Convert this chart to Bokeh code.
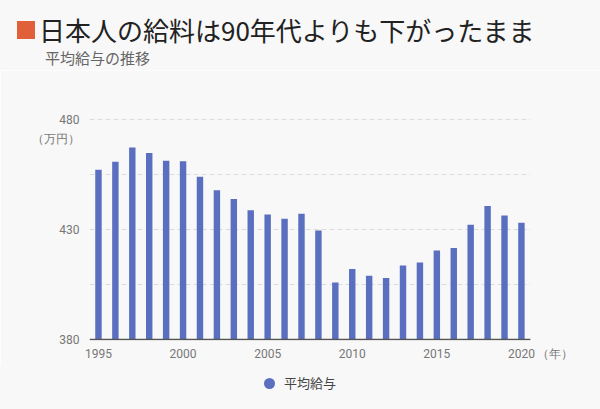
from bokeh.plotting import figure
from bokeh.layouts import column
from bokeh.models import FixedTicker, Range1d, ColumnDataSource, Div
from bokeh.embed import file_html
from bokeh.resources import INLINE

years = list(range(1995, 2021))
salary = [457.2, 460.8, 467.3, 464.8, 461.3, 461.0, 454.0, 447.8, 443.9, 438.8,
          436.8, 434.9, 437.2, 429.6, 405.9, 412.0, 409.0, 408.0, 413.6, 415.0,
          420.4, 421.6, 432.2, 440.7, 436.4, 433.1]
x_ticks = [1995, 2000, 2005, 2010, 2015, 2020]
y_ticks = [380, 430, 480]
grid_ticks = [405, 430, 455, 480]

title_text = "日本人の給料は90年代よりも下がったまま"
subtitle_text = "平均給与の推移"
series_name = "平均給与"
y_unit = "（万円）"
x_unit = "（年）"

BG = "#f8f8f8"
BAR = "#5b6fc0"
ORANGE = "#e0603a"
JP = "Noto Sans CJK JP"
NUM = "Roboto"
W = 600

# ---------- header (HTML text) ----------
HH = 70
head = Div(width=W, height=HH, margin=0, text=f"""
<div style="position:relative;width:{W}px;height:{HH}px;background:{BG};overflow:hidden;">
  <span style="position:absolute;left:17px;top:21px;width:18px;height:18px;background:{ORANGE};"></span>
  <span style="position:absolute;left:39px;top:12px;line-height:36px;font-size:26px;
               font-family:'{JP}';color:#222222;white-space:nowrap;">{title_text}</span>
  <span style="position:absolute;left:45px;top:48px;line-height:20px;font-size:15px;
               font-family:'{JP}';color:#666666;white-space:nowrap;">{subtitle_text}</span>
</div>""")

# ---------- main chart ----------
MH = 295                 # page rows 70..365
TOP, BOT = 85, 340       # frame edges (page px)
PXU = 2.2                # px per unit
y_start = 380 - (BOT - 339) / PXU
y_end = y_start + (BOT - TOP) / PXU
x_start = 1994.47
x_end = 2022.9
x_last = 2020.53

p = figure(width=W, height=MH, output_backend="svg", toolbar_location=None,
           x_range=Range1d(x_start, x_end), y_range=Range1d(y_start, y_end),
           min_border_left=89, min_border_right=30, min_border_top=TOP - HH,
           min_border_bottom=HH + MH - BOT)
p.background_fill_color = BG
p.border_fill_color = BG
p.outline_line_color = None
p.xgrid.visible = False
p.ygrid.visible = False

# dashed horizontal grid lines (limited to the bar area)
p.segment(x0=[x_start] * len(grid_ticks), x1=[x_last] * len(grid_ticks),
          y0=grid_ticks, y1=grid_ticks, line_color="#dcdcdc", line_dash="5 3", line_width=1)

src = ColumnDataSource(dict(x=years, top=salary))
p.vbar(x="x", top="top", bottom=380, width=0.38, source=src,
       fill_color=BAR, line_color=None)

# baseline
p.segment(x0=[x_start], x1=[x_last], y0=[380], y1=[380], line_color="#555555", line_width=1.5)

# x axis (unit shown as an extra tick label)
x_unit_pos = 2022
p.xaxis.ticker = FixedTicker(ticks=x_ticks + [x_unit_pos])
p.xaxis.major_label_overrides = {x_unit_pos: x_unit}
p.xaxis.axis_line_color = None
p.xaxis.major_tick_line_color = None
p.xaxis.minor_tick_line_color = None
p.xaxis.major_tick_out = 0
p.xaxis.major_tick_in = 0
p.xaxis.minor_tick_out = 0
p.xaxis.major_label_text_font = NUM
p.xaxis.major_label_text_font_size = "12px"
p.xaxis.major_label_text_color = "#777777"
p.xaxis.major_label_standoff = 6

# y axis (unit shown as an extra tick label)
y_unit_pos = 471
p.yaxis.ticker = FixedTicker(ticks=y_ticks + [y_unit_pos])
p.yaxis.major_label_overrides = {y_unit_pos: y_unit}
p.yaxis.axis_line_color = None
p.yaxis.major_tick_line_color = None
p.yaxis.minor_tick_line_color = None
p.yaxis.major_tick_out = 0
p.yaxis.major_tick_in = 0
p.yaxis.minor_tick_out = 0
p.yaxis.major_label_text_font = NUM
p.yaxis.major_label_text_font_size = "12px"
p.yaxis.major_label_text_color = "#777777"
p.yaxis.major_label_standoff = 10

# ---------- footer legend (HTML) ----------
FH = 409 - HH - MH
foot = Div(width=W, height=FH, margin=0, text=f"""
<div style="position:relative;width:{W}px;height:{FH}px;background:{BG};overflow:hidden;">
  <span style="position:absolute;left:264px;top:13px;width:11px;height:11px;border-radius:50%;
               background:{BAR};"></span>
  <span style="position:absolute;left:284px;top:8px;line-height:20px;font-size:13px;
               font-family:'{JP}';color:#444444;white-space:nowrap;">{series_name}</span>
</div>""")

layout = column(head, p, foot, spacing=0)
open("out.html", "w").write(file_html(layout, INLINE))
